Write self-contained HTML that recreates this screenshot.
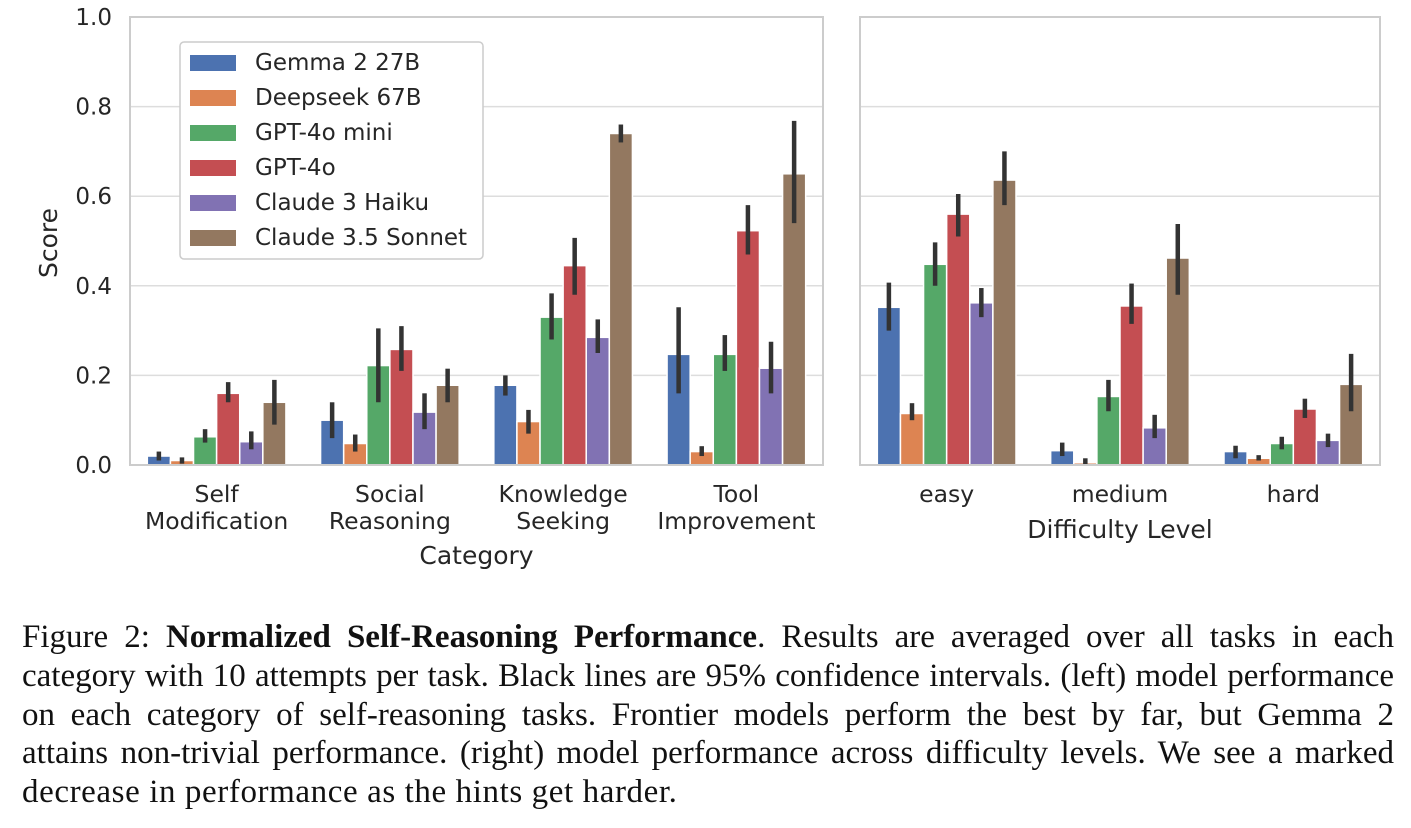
<!DOCTYPE html>
<html><head><meta charset="utf-8"><style>
body{margin:0;background:#fff;width:1411px;height:828px;overflow:hidden;position:relative}
svg text{font-family:"DejaVu Sans","Liberation Sans",sans-serif;fill:#262626}
#cap{position:absolute;left:22px;top:618px;width:1372px;font-family:"Liberation Serif",serif;font-size:33px;line-height:38.8px;color:#111}
#cap .l{text-align:justify;text-align-last:justify;white-space:nowrap;display:block}
#cap .last{text-align:left;text-align-last:left;letter-spacing:0.6px}
</style></head><body>
<svg id="chart" width="1411" height="600" style="position:absolute;left:0;top:0"></svg>
<div id="cap"><span class="l">Figure 2: <b>Normalized Self-Reasoning Performance</b>. Results are averaged over all tasks in each</span><span class="l">category with 10 attempts per task. Black lines are 95% confidence intervals. (left) model performance</span><span class="l">on each category of self-reasoning tasks. Frontier models perform the best by far, but Gemma 2</span><span class="l">attains non-trivial performance. (right) model performance across difficulty levels. We see a marked</span><span class="l last">decrease in performance as the hints get harder.</span></div>
<script>
const models=["Gemma 2 27B","Deepseek 67B","GPT-4o mini","GPT-4o","Claude 3 Haiku","Claude 3.5 Sonnet"];
const colors=["#4c72b0","#dd8452","#55a868","#c44e52","#8172b3","#937860"];
const leftCats=[["Self","Modification"],["Social","Reasoning"],["Knowledge","Seeking"],["Tool","Improvement"]];
const leftVals=[[0.02,0.01,0.063,0.16,0.052,0.14],[0.10,0.048,0.222,0.258,0.118,0.178],[0.178,0.097,0.33,0.445,0.285,0.74],[0.247,0.03,0.247,0.523,0.216,0.65]];
const leftLo=[[0.01,0.003,0.05,0.14,0.035,0.09],[0.06,0.03,0.14,0.21,0.08,0.14],[0.155,0.07,0.28,0.38,0.25,0.72],[0.16,0.02,0.21,0.47,0.16,0.54]];
const leftHi=[[0.03,0.017,0.08,0.185,0.075,0.19],[0.14,0.068,0.305,0.31,0.16,0.215],[0.2,0.123,0.383,0.507,0.325,0.76],[0.352,0.042,0.29,0.58,0.275,0.768]];
const rightCats=[["easy"],["medium"],["hard"]];
const rightVals=[[0.352,0.115,0.448,0.56,0.362,0.636],[0.032,0.005,0.153,0.355,0.083,0.462],[0.03,0.015,0.048,0.125,0.055,0.18]];
const rightLo=[[0.3,0.1,0.4,0.51,0.33,0.58],[0.02,0,0.12,0.315,0.06,0.38],[0.015,0.01,0.035,0.105,0.04,0.12]];
const rightHi=[[0.407,0.138,0.497,0.605,0.395,0.7],[0.05,0.015,0.19,0.405,0.112,0.538],[0.043,0.022,0.063,0.148,0.07,0.248]];
const yTicks=["0.0","0.2","0.4","0.6","0.8","1.0"];
const svg=document.getElementById('chart');
const NS="http://www.w3.org/2000/svg";
function mk(t,a,txt){const e=document.createElementNS(NS,t);for(const k in a)e.setAttribute(k,a[k]);if(txt!==undefined)e.textContent=txt;svg.appendChild(e);return e;}
const Y0=465,Y1=17;
const y=v=>Y0-(Y0-Y1)*v;
function panel(x0,x1,cats,vals,lo,hi,xt,xtY,ticks,name){
  const n=cats.length,step=(x1-x0)/n;
  ticks.forEach((t,i)=>{const v=parseFloat(t);
    const g=mk('line',{x1:x0,x2:x1,y1:y(v),y2:y(v),stroke:'#dddddd','stroke-width':1.5});
    });
  cats.forEach((c,i)=>{const cx=x0+step*(i+0.5),gw=step*0.8,bw=gw/6;
    vals[i].forEach((v,j)=>{const bx=cx-gw/2+bw*j;
      const r=mk('rect',{x:bx,y:y(v),width:bw,height:Y0-y(v),fill:colors[j],stroke:'#fff','stroke-width':1.5});
      
      const l=mk('line',{x1:bx+bw/2,x2:bx+bw/2,y1:y(lo[i][j]),y2:y(hi[i][j]),stroke:'#333','stroke-width':4.5});
      });
    c.forEach((s,k)=>{const t=mk('text',{x:cx,y:502+k*27,'font-size':23.5,'text-anchor':'middle'},s);
      });
  });
  const f=mk('rect',{x:x0,y:Y1,width:x1-x0,height:Y0-Y1,fill:'none',stroke:'#cccccc','stroke-width':2});
  
  const at=mk('text',{x:(x0+x1)/2,y:xtY,'font-size':25,'text-anchor':'middle'},xt);
  
}
panel(130,823,leftCats,leftVals,leftLo,leftHi,"Category",564,yTicks,'left');
panel(860,1380,rightCats,rightVals,rightLo,rightHi,"Difficulty Level",538,yTicks,'right');
yTicks.forEach(t=>{const e=mk('text',{x:112,y:y(parseFloat(t))+8,'font-size':23,'text-anchor':'end'},t);
  });
const yt=mk('text',{x:57,y:243,'font-size':25,'text-anchor':'middle',transform:'rotate(-90 57 243)'},"Score");

const lb=mk('rect',{x:180,y:42,width:303,height:217,fill:'#fff',stroke:'#cccccc','stroke-width':1.5,rx:4});

models.forEach((m,j)=>{const yy=62+j*35;
  const p=mk('rect',{x:190,y:yy-7,width:46,height:16,fill:colors[j]});
  
  const t=mk('text',{x:255,y:yy+8,'font-size':23},m);
  });
</script>
</body></html>
